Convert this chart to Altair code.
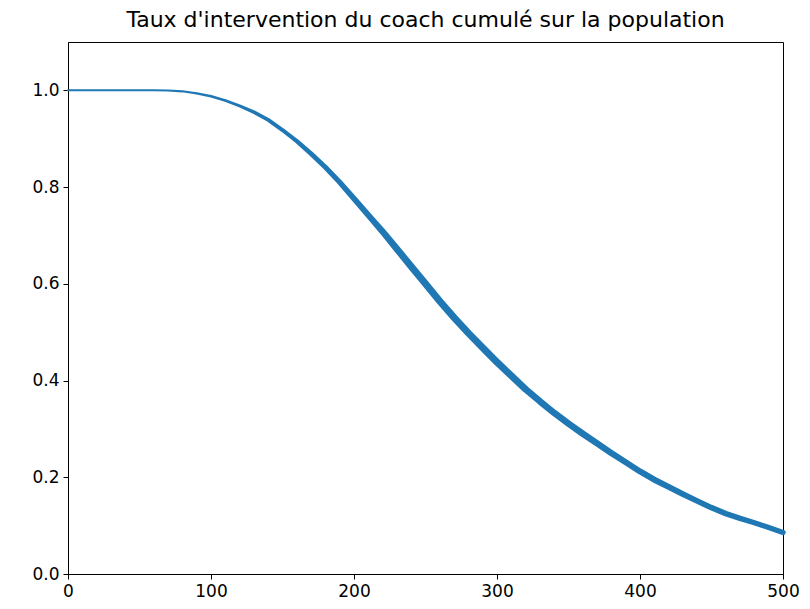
import altair as alt
import pandas as pd

# Step index (x) and cumulative coach-intervention rate (y)
steps = [0, 50, 60, 70, 80, 90, 100, 110, 120, 130, 140, 150, 160, 170, 180,
         190, 200, 210, 220, 230, 240, 250, 260, 270, 280, 290, 300, 310, 320,
         330, 340, 350, 360, 370, 380, 390, 400, 410, 420, 430, 440, 450, 460,
         470, 480, 490, 500]
rate = [1.000, 1.000, 1.000, 0.9995, 0.998, 0.994, 0.988, 0.979, 0.968, 0.955,
        0.939, 0.918, 0.895, 0.869, 0.841, 0.810, 0.776, 0.742, 0.708, 0.672,
        0.636, 0.600, 0.564, 0.530, 0.498, 0.468, 0.438, 0.410, 0.382, 0.357,
        0.333, 0.311, 0.290, 0.270, 0.250, 0.231, 0.212, 0.195, 0.180, 0.165,
        0.151, 0.137, 0.125, 0.115, 0.106, 0.096, 0.086]
# Approximate amplitude of the noise band around the curve (in rate units)
noise = [0.0, 0.0, 0.0, 0.0, 0.0001, 0.0003, 0.0006, 0.0009, 0.0012, 0.0016,
         0.002, 0.0022, 0.0025, 0.003, 0.0033, 0.0036, 0.004, 0.0044, 0.0048,
         0.0052, 0.0055, 0.0055, 0.0055, 0.0055, 0.0055, 0.0055, 0.0055,
         0.0055, 0.0053, 0.005, 0.005, 0.005, 0.005, 0.0048, 0.0046, 0.0045,
         0.0045, 0.0044, 0.0043, 0.0042, 0.004, 0.004, 0.0039, 0.0038, 0.0037,
         0.0036, 0.0036]

x_ticks = [0, 100, 200, 300, 400, 500]
y_ticks = [0.0, 0.2, 0.4, 0.6, 0.8, 1.0]

df = pd.DataFrame({"step": steps, "rate": rate, "noise": noise})

FONT = "DejaVu Sans"
axis_style = dict(title=None, grid=False, labelFlush=False,
                  domainColor="black", domainWidth=1,
                  tickColor="black", tickSize=5, tickWidth=1,
                  labelColor="black", labelFont=FONT, labelFontSize=17,
                  labelPadding=4)

chart = alt.Chart(df).mark_trail(color="#1f77b4").encode(
    x=alt.X("step:Q",
            scale=alt.Scale(domain=[0, 500], nice=False, zero=False),
            axis=alt.Axis(values=x_ticks, format="d", **axis_style)),
    y=alt.Y("rate:Q",
            scale=alt.Scale(domain=[0, 1.1], nice=False),
            axis=alt.Axis(values=y_ticks, format=".1f", **axis_style)),
    size=alt.Size("noise:Q",
                  scale=alt.Scale(domain=[0, 0.006], range=[2, 7.5]),
                  legend=None),
    order=alt.Order("step:Q"),
).properties(
    width=715,
    height=532,
    title=alt.TitleParams("Taux d'intervention du coach cumulé sur la population",
                          fontSize=22, font=FONT, fontWeight="normal",
                          color="black", anchor="middle", offset=10),
    autosize=alt.AutoSizeParams(type="none"),
    padding={"left": 60, "top": 34, "right": 19, "bottom": 27},
    background="white",
).configure_view(
    stroke="black", strokeWidth=1
)

chart.save("out.html", embed_options={"renderer": "svg", "actions": False})
